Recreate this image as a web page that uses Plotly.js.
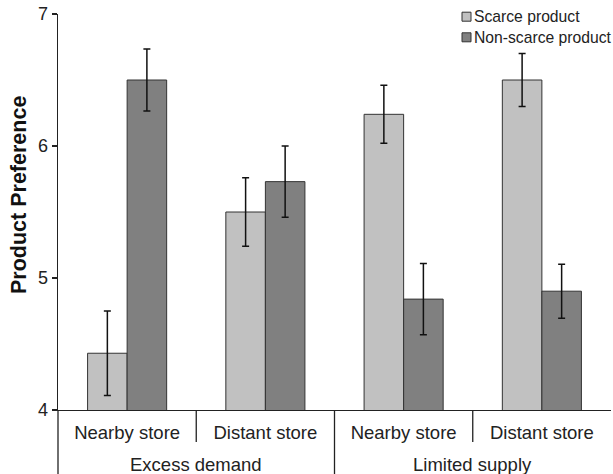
<!DOCTYPE html>
<html>
<head>
<meta charset="utf-8">
<script src="https://cdn.plot.ly/plotly-3.0.1.min.js"></script>
<style>
  html, body { margin: 0; padding: 0; background: #fff; }
  #chart { width: 613px; height: 474px; }
</style>
</head>
<body>
<div id="chart"></div>
<script>
// Store conditions (x axis, lower level) and demand conditions (upper level)
const storeLabels = ["Nearby store", "Distant store", "Nearby store", "Distant store"];
const demandGroups = ["Excess demand", "Limited supply"];

// Mean product preference per condition
const scarceMeans = [4.43, 5.50, 6.24, 6.50];
const nonScarceMeans = [6.50, 5.73, 4.84, 4.90];

// Standard errors
const scarceErr = [0.32, 0.26, 0.22, 0.20];
const nonScarceErr = [0.235, 0.27, 0.27, 0.205];

const seriesNames = ["Scarce product", "Non-scarce product"];
const seriesColors = ["#c1c1c1", "#808080"];

const yTicks = [4, 5, 6, 7];

const xPos = storeLabels.map((_, i) => i);
const nCat = storeLabels.length;
const ink = "#222";
const fontFam = "'Liberation Sans', Arial, Helvetica, sans-serif";

function barTrace(name, means, errs, color) {
  return {
    type: "bar",
    name: name,
    x: xPos,
    y: means,
    marker: { color: color, line: { color: "#333", width: 1 } },
    error_y: { type: "data", array: errs, visible: true, color: "#111", thickness: 1.5, width: 3.5 },
    showlegend: false,
    hoverinfo: "y"
  };
}

const traces = [
  barTrace(seriesNames[0], scarceMeans, scarceErr, seriesColors[0]),
  barTrace(seriesNames[1], nonScarceMeans, nonScarceErr, seriesColors[1])
];

// Margins define the plotting rectangle; helper converts pixel offsets to paper units
const M = { l: 58, r: 2, t: 14, b: 64 };
const W = 613, H = 474;
const plotW = W - M.l - M.r, plotH = H - M.t - M.b;
const px2x = p => (p - M.l) / plotW;
const px2y = p => (H - M.b - p) / plotH;
const catEdge = i => (i + 0.5 + 0.5) / nCat;   // paper x of boundary after category i

const shapes = [];
const annotations = [];

// Divider lines of the two-level category table beneath the axis
const subBottom = px2y(442);
const groupBottom = px2y(474);
shapes.push({ type: "line", xref: "paper", yref: "paper", x0: 0, x1: 0, y0: 0, y1: groupBottom,
              line: { color: ink, width: 1.3 } });
for (let i = 0; i < nCat - 1; i++) {
  const isGroupEdge = (i + 1) % 2 === 0;
  shapes.push({ type: "line", xref: "paper", yref: "paper",
                x0: catEdge(i), x1: catEdge(i), y0: 0, y1: isGroupEdge ? groupBottom : subBottom,
                line: { color: ink, width: 1.3 } });
}

// Upper-level group labels
demandGroups.forEach((g, gi) => {
  annotations.push({ xref: "paper", yref: "paper", x: (gi * 2 + 1) / nCat, y: px2y(464.5),
                     text: g, showarrow: false, xanchor: "center", yanchor: "middle",
                     font: { family: fontFam, size: 18.5, color: ink } });
});

// Y axis title
annotations.push({ xref: "paper", yref: "paper", x: px2x(19), y: px2y(195),
                   text: "<b>Product Preference</b>", textangle: -90, showarrow: false,
                   xanchor: "center", yanchor: "middle",
                   font: { family: fontFam, size: 21.5, color: "#111" } });

// Legend: swatches and labels
const legendRows = [16.7, 37.3];
seriesNames.forEach((name, k) => {
  const cy = legendRows[k];
  shapes.push({ type: "rect", xref: "paper", yref: "paper",
                x0: px2x(462), x1: px2x(471), y0: px2y(cy - 4.5), y1: px2y(cy + 4.5),
                fillcolor: seriesColors[k], line: { color: "#333", width: 1 } });
  annotations.push({ xref: "paper", yref: "paper", x: px2x(472), y: px2y(cy),
                     text: name, showarrow: false, xanchor: "left", yanchor: "middle",
                     font: { family: fontFam, size: 15.7, color: ink } });
});

const layout = {
  width: W, height: H,
  margin: M,
  paper_bgcolor: "#fff", plot_bgcolor: "#fff",
  barmode: "group", bargap: 0.428, bargroupgap: 0,
  font: { family: fontFam, size: 18, color: ink },
  xaxis: {
    range: [-0.5, nCat - 0.5],
    tickvals: xPos, ticktext: storeLabels,
    ticks: "", showgrid: false, zeroline: false,
    showline: true, linecolor: ink, linewidth: 1.3,
    tickfont: { family: fontFam, size: 18.5, color: ink },
    ticklabelstandoff: 5,
    fixedrange: true
  },
  yaxis: {
    range: [4, 7],
    tickvals: yTicks,
    ticks: "outside", ticklen: 5, tickwidth: 1.3, tickcolor: ink,
    showline: true, linecolor: ink, linewidth: 1.3,
    showgrid: false, zeroline: false,
    tickfont: { family: fontFam, size: 18, color: ink },
    fixedrange: true
  },
  shapes: shapes,
  annotations: annotations,
  showlegend: false
};

Plotly.newPlot("chart", traces, layout, { displayModeBar: false, staticPlot: true });
</script>
</body>
</html>
